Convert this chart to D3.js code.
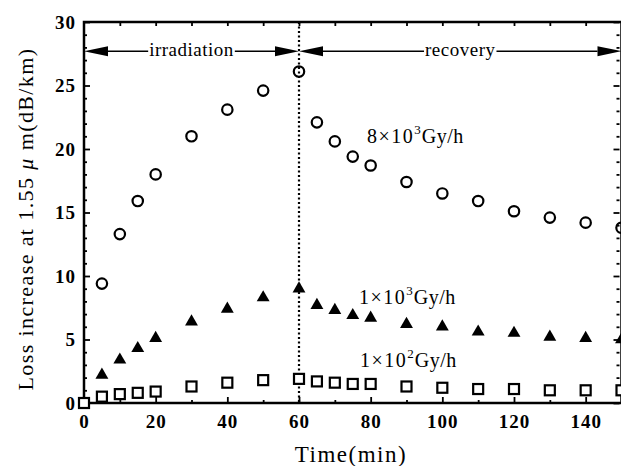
<!DOCTYPE html>
<html>
<head>
<meta charset="utf-8">
<script src="https://cdn.jsdelivr.net/npm/d3@7"></script>
<style>
  body { margin: 0; background: #fff; }
  svg { display: block; }
</style>
</head>
<body>
<div id="chart"></div>
<script>
// Loss increase vs time, three dose rates
const timesHigh = [5, 10, 15, 20, 30, 40, 50, 60, 65, 70, 75, 80, 90, 100, 110, 120, 130, 140, 150];
const lossHigh = [9.4, 13.3, 15.9, 18.0, 21.0, 23.1, 24.6, 26.1, 22.1, 20.6, 19.4, 18.7, 17.4, 16.5, 15.9, 15.1, 14.6, 14.2, 13.8];

const timesMid = [5, 10, 15, 20, 30, 40, 50, 60, 65, 70, 75, 80, 90, 100, 110, 120, 130, 140, 150];
const lossMid = [2.2, 3.4, 4.3, 5.1, 6.4, 7.4, 8.3, 9.0, 7.7, 7.3, 6.9, 6.7, 6.2, 6.0, 5.6, 5.5, 5.2, 5.1, 5.0];

const timesLow = [0, 5, 10, 15, 20, 30, 40, 50, 60, 65, 70, 75, 80, 90, 100, 110, 120, 130, 140, 150];
const lossLow = [0.0, 0.5, 0.7, 0.8, 0.9, 1.3, 1.6, 1.8, 1.9, 1.7, 1.6, 1.5, 1.5, 1.3, 1.2, 1.1, 1.1, 1.0, 1.0, 1.0];

const xTickLabels = [0, 20, 40, 60, 80, 100, 120, 140];
const yTickLabels = [0, 5, 10, 15, 20, 25, 30];
const phases = [
  { name: "irradiation", start: 0, end: 60 },
  { name: "recovery", start: 60, end: 150 }
];
const switchTime = 60;

const W = 621, H = 466;
const serif = "'Liberation Serif', 'Times New Roman', serif";

const svg = d3.select("#chart").append("svg")
  .attr("width", W).attr("height", H);

const x = d3.scaleLinear().domain([0, 150]).range([84, 621.5]);
const y = d3.scaleLinear().domain([0, 30]).range([403, 22]);

// frame
svg.append("rect")
  .attr("x", x(0)).attr("y", y(30))
  .attr("width", x(150) - x(0)).attr("height", y(0) - y(30))
  .attr("fill", "none").attr("stroke", "#000").attr("stroke-width", 2.5);

function styleAxis(g) {
  g.select(".domain").remove();
  g.selectAll("line").attr("stroke", "#000").attr("stroke-width", 1.8);
  g.selectAll("text")
    .attr("font-family", serif)
    .attr("font-weight", "bold")
    .attr("font-size", 19)
    .attr("letter-spacing", 1)
    .attr("fill", "#000");
}

// bottom axis
svg.append("g").attr("transform", `translate(0,${y(0)})`)
  .call(d3.axisBottom(x).tickValues(xTickLabels).tickSize(-6).tickPadding(12))
  .call(styleAxis);
svg.append("g").attr("transform", `translate(0,${y(0)})`)
  .call(d3.axisBottom(x).tickValues(d3.range(10, 150, 20)).tickSize(-3).tickFormat(""))
  .call(styleAxis);
// top axis
svg.append("g").attr("transform", `translate(0,${y(30)})`)
  .call(d3.axisTop(x).tickValues(d3.range(10, 150, 10)).tickSize(-4).tickFormat(""))
  .call(styleAxis);
// left axis
svg.append("g").attr("transform", `translate(${x(0)},0)`)
  .call(d3.axisLeft(y).tickValues(yTickLabels).tickSize(-6).tickPadding(8))
  .call(styleAxis);
svg.append("g").attr("transform", `translate(${x(0)},0)`)
  .call(d3.axisLeft(y).tickValues(d3.range(1, 30, 1).filter(v => v % 5)).tickSize(-3).tickFormat(""))
  .call(styleAxis);
// right axis
svg.append("g").attr("transform", `translate(${x(150) - 2},0)`)
  .call(d3.axisRight(y).tickValues(yTickLabels).tickSize(-6).tickFormat(""))
  .call(styleAxis);
svg.append("g").attr("transform", `translate(${x(150) - 2},0)`)
  .call(d3.axisRight(y).tickValues(d3.range(1, 30, 1).filter(v => v % 5)).tickSize(-3).tickFormat(""))
  .call(styleAxis);

// dotted switch line
svg.append("line")
  .attr("x1", x(switchTime)).attr("x2", x(switchTime))
  .attr("y1", y(30)).attr("y2", y(0))
  .attr("stroke", "#000").attr("stroke-width", 2.2)
  .attr("stroke-dasharray", "2,2.5");

// phase arrows
const arrowY = y(27.7);
const headLen = 24, headHalf = 5;
phases.forEach(p => {
  const x1 = x(p.start), x2 = x(p.end);
  const mid = (x1 + x2) / 2;
  const g = svg.append("g");
  const label = g.append("text")
    .attr("x", mid).attr("y", arrowY + 5)
    .attr("text-anchor", "middle")
    .attr("font-family", serif)
    .attr("font-size", 19)
    .attr("letter-spacing", 0.5)
    .text(p.name);
  const half = label.node().getComputedTextLength() / 2 + 1;
  g.append("line").attr("x1", x1 + headLen).attr("x2", mid - half)
    .attr("y1", arrowY).attr("y2", arrowY)
    .attr("stroke", "#000").attr("stroke-width", 1.6);
  g.append("line").attr("x1", mid + half).attr("x2", x2 - headLen)
    .attr("y1", arrowY).attr("y2", arrowY)
    .attr("stroke", "#000").attr("stroke-width", 1.6);
  g.append("path")
    .attr("d", `M${x1},${arrowY} L${x1 + headLen},${arrowY - headHalf} L${x1 + headLen},${arrowY + headHalf} Z`)
    .attr("fill", "#000");
  g.append("path")
    .attr("d", `M${x2},${arrowY} L${x2 - headLen},${arrowY - headHalf} L${x2 - headLen},${arrowY + headHalf} Z`)
    .attr("fill", "#000");
});

// markers
const high = timesHigh.map((t, i) => ({ t, v: lossHigh[i] }));
const mid = timesMid.map((t, i) => ({ t, v: lossMid[i] }));
const low = timesLow.map((t, i) => ({ t, v: lossLow[i] }));

svg.append("g").selectAll("circle").data(high).join("circle")
  .attr("cx", d => x(d.t)).attr("cy", d => y(d.v))
  .attr("r", 5.2)
  .attr("fill", "none").attr("stroke", "#000").attr("stroke-width", 2.2);

const tri = d3.symbol().type(d3.symbolTriangle).size(72);
svg.append("g").selectAll("path").data(mid).join("path")
  .attr("transform", d => `translate(${x(d.t)},${y(d.v)})`)
  .attr("d", tri)
  .attr("fill", "#000");

svg.append("g").selectAll("rect").data(low).join("rect")
  .attr("x", d => x(d.t) - 5).attr("y", d => y(d.v) - 5)
  .attr("width", 10).attr("height", 10)
  .attr("fill", "#fff").attr("stroke", "#000").attr("stroke-width", 2.2);

// series labels
function doseLabel(px, py, mant, exp) {
  const t = svg.append("text")
    .attr("x", px).attr("y", py)
    .attr("font-family", serif)
    .attr("font-size", 20)
    .attr("fill", "#000");
  t.append("tspan").attr("letter-spacing", 1.5).text(mant + "×10");
  t.append("tspan").attr("dy", -9).attr("font-size", 13).text(exp);
  t.append("tspan").attr("dy", 9).attr("dx", 1).attr("letter-spacing", 0.5).text("Gy/h");
}
doseLabel(367, 143, "8", "3");
doseLabel(359, 304, "1", "3");
doseLabel(360, 367, "1", "2");

// axis titles
svg.append("text")
  .attr("x", 351).attr("y", 462)
  .attr("text-anchor", "middle")
  .attr("font-family", serif)
  .attr("font-size", 23)
  .attr("letter-spacing", 1.5)
  .text("Time(min)");

const yl = svg.append("text")
  .attr("transform", `translate(33,219) rotate(-90)`)
  .attr("text-anchor", "middle")
  .attr("font-family", serif)
  .attr("font-size", 22)
  .attr("letter-spacing", 1.4);
yl.append("tspan").text("Loss increase at  1.55");
yl.append("tspan").attr("font-style", "italic").text(" μ ");
yl.append("tspan").text("m(dB/km)");
</script>
</body>
</html>
